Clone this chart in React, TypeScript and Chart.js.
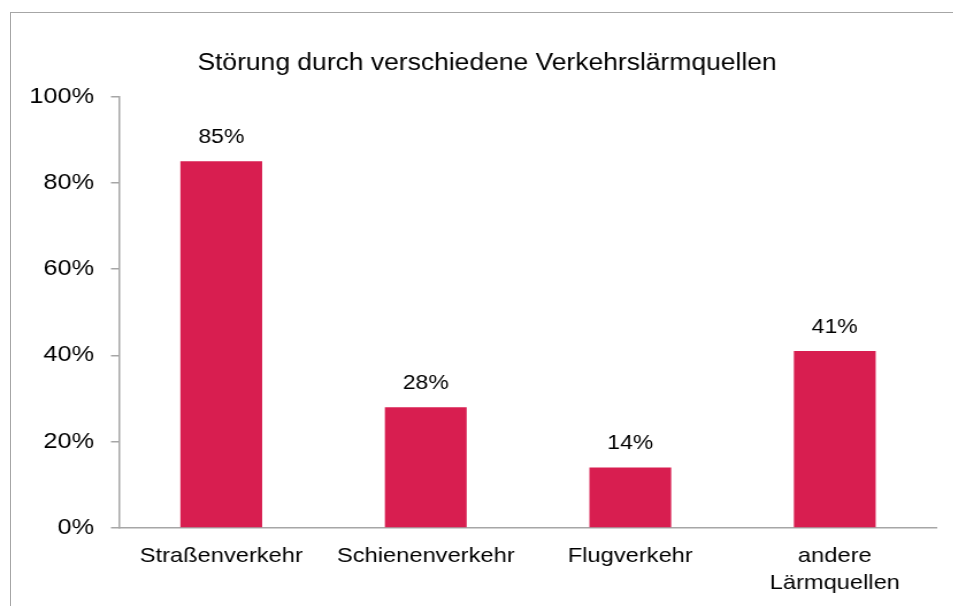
import React, { useEffect, useRef } from "react";
import { Chart, registerables } from "chart.js";

Chart.register(...registerables);

const TITLE = "Störung durch verschiedene Verkehrslärmquellen";
const categories: (string | string[])[] = [
  "Straßenverkehr",
  "Schienenverkehr",
  "Flugverkehr",
  ["andere", "Lärmquellen"],
];
const values = [85, 28, 14, 41];
const yTicks = [0, 20, 40, 60, 80, 100];

const BAR_COLOR = "#D81E50";
const AXIS_COLOR = "#A6A6A6";
const FONT = "'Liberation Sans', Arial, sans-serif";
const SX = 1.15;
const CW = 829;
const CH = 606;

const dataLabels = {
  id: "dataLabels",
  afterDatasetsDraw(chart: any) {
    const ctx = chart.ctx;
    const meta = chart.getDatasetMeta(0);
    ctx.save();
    ctx.font = `20px ${FONT}`;
    ctx.fillStyle = "#000";
    ctx.textAlign = "center";
    ctx.textBaseline = "middle";
    meta.data.forEach((bar: any, i: number) => {
      ctx.fillText(`${values[i]}%`, bar.x, bar.y - 24);
    });
    ctx.restore();
  },
};

const titlePlugin = {
  id: "chartTitle",
  afterDraw(chart: any) {
    const ctx = chart.ctx;
    ctx.save();
    ctx.font = `23px ${FONT}`;
    ctx.fillStyle = "#000";
    ctx.textAlign = "center";
    ctx.textBaseline = "middle";
    ctx.fillText(TITLE, 423.5, 64);
    ctx.restore();
  },
};

export default function App() {
  const ref = useRef<HTMLCanvasElement>(null);
  useEffect(() => {
    if (!ref.current) return;
    const chart = new Chart(ref.current, {
      type: "bar",
      data: {
        labels: categories,
        datasets: [
          {
            data: values,
            backgroundColor: BAR_COLOR,
            borderWidth: 0,
            categoryPercentage: 1,
            barPercentage: 0.4,
          },
        ],
      },
      options: {
        responsive: false,
        animation: false,
        devicePixelRatio: 1,
        layout: { padding: { left: 0, right: 14.2, top: 96.5, bottom: 0 } },
        plugins: {
          legend: { display: false },
          tooltip: { enabled: false },
          title: { display: false },
        },
        scales: {
          x: {
            afterFit: (scale: any) => {
              scale.height = 78;
            },
            grid: { display: false, drawTicks: false },
            border: { display: true, color: AXIS_COLOR, width: 1.5 },
            ticks: {
              color: "#000",
              font: { family: FONT, size: 20.6, lineHeight: 1.35 },
              padding: 14,
              maxRotation: 0,
              autoSkip: false,
            },
          },
          y: {
            min: 0,
            max: 100,
            afterBuildTicks: (scale: any) => {
              scale.ticks = yTicks.map((v) => ({ value: v }));
            },
            afterFit: (scale: any) => {
              scale.width = 103.5;
            },
            grid: {
              drawOnChartArea: false,
              drawTicks: true,
              tickLength: 7,
              color: AXIS_COLOR,
              lineWidth: 1.5,
            },
            border: { display: true, color: AXIS_COLOR, width: 1.5 },
            ticks: {
              color: "#000",
              font: { family: FONT, size: 22 },
              padding: 14.8,
              callback: (v: any) => `${v}%`,
            },
          },
        },
      },
      plugins: [dataLabels, titlePlugin],
    });
    return () => chart.destroy();
  }, []);

  return (
    <div
      style={{
        position: "absolute",
        left: 0,
        top: 0,
        width: 953,
        height: 606,
        overflow: "hidden",
        background: "#fff",
      }}
    >
      <div
        style={{
          position: "absolute",
          left: 0,
          top: 0,
          width: CW,
          height: CH,
          transform: `scaleX(${SX})`,
          transformOrigin: "0 0",
        }}
      >
        <canvas ref={ref} width={CW} height={CH} style={{ display: "block" }} />
      </div>
      <div
        style={{
          position: "absolute",
          left: 10,
          top: 12,
          width: 1000,
          height: 700,
          border: "1px solid #A6A6A6",
          pointerEvents: "none",
        }}
      />
    </div>
  );
}
